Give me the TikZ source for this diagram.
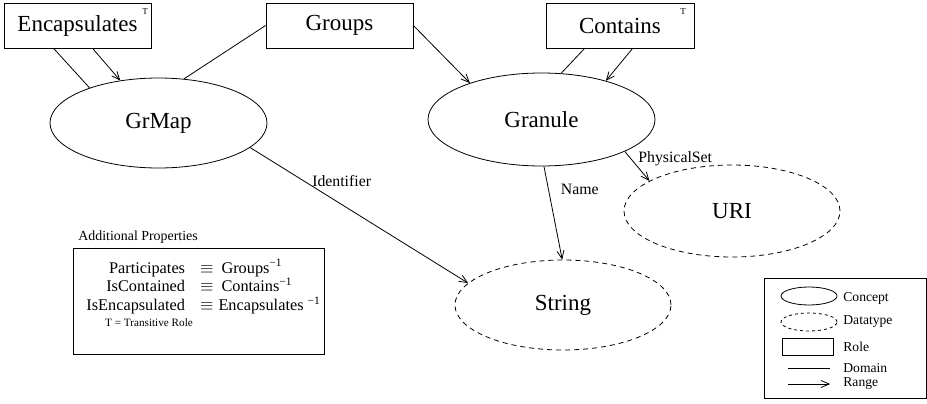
\documentclass[tikz,border=0pt]{standalone}
\usepackage{fontspec}
\setmainfont{Liberation Serif}
\usetikzlibrary{arrows.meta,shapes.geometric}
\newcommand{\invsup}{\textsuperscript{\char"2212 1}}
\begin{document}
\begin{tikzpicture}[x=1pt,y=-1pt,
  line width=0.8pt,
  role/.style={draw, rectangle, minimum width=147pt, minimum height=45pt,
    inner sep=0pt, font=\fontsize{23}{27}\selectfont},
  concept/.style={draw, ellipse, inner sep=0pt, font=\fontsize{23}{27}\selectfont},
  datatype/.style={concept, dash pattern=on 5pt off 4pt},
  rng/.style={-{Straight Barb[length=8pt,width=7pt]}},
  lbl/.style={font=\fontsize{15.8}{18}\selectfont, inner sep=0pt},
  tmark/.style={font=\fontsize{9}{10}\selectfont, inner sep=0pt},
  legtext/.style={font=\fontsize{13.6}{16}\selectfont, inner sep=0pt, anchor=west},
]
\useasboundingbox (0,0) rectangle (927,404);

% roles
\node[role] (enc) at (77.5,25.5) {Encapsulates};
\node[tmark] (encT) at (145,12) {T};
\node[role] (grp) at (339.5,25.5) {Groups};
\node[role, minimum width=148pt] (con) at (620,25.5) {Contains};
\node[tmark] (conT) at (683,12) {T};

% concepts and datatypes
\node[concept, minimum width=217pt, minimum height=90pt] (grmap) at (158.5,123) {GrMap};
\node[concept, minimum width=227pt, minimum height=93pt] (gran) at (541.5,119.5) {Granule};
\node[datatype, minimum width=216pt, minimum height=92pt] (uri) at (732,211) {URI};
\node[datatype, minimum width=216pt, minimum height=90pt] (str) at (563,305) {String};

% role domains and ranges
\draw ([xshift=50pt]enc.south west) -- (grmap.153.8);
\draw[rng] ([xshift=89pt]enc.south west) -- (grmap.132.2);
\draw (grp.west) -- (grmap.60);
\draw[rng] (grp.east) -- (gran.153.1);
\draw ([xshift=39pt]con.south west) -- (gran.67.1);
\draw[rng] ([xshift=87pt]con.south west) -- (gran.31.4);

% attributes
\draw[rng] (grmap.-15.9) -- node[lbl, pos=0.42, above=17pt] {Identifier} (str.167);
\draw[rng] (gran.-87.6) -- node[lbl, pos=0.25, right=12pt] {Name} (str.91.3);
\draw[rng] (gran.-21.4) -- node[lbl, pos=0.25, anchor=west, xshift=7pt] {PhysicalSet} (uri.160.5);

% additional properties
\node[font=\fontsize{13.9}{16}\selectfont, inner sep=0pt, anchor=west] (addT) at (78,237) {Additional Properties};
\node[draw, minimum width=251pt, minimum height=106pt, inner sep=0pt] (props) at (198.5,301) {};
\node[font=\fontsize{16.3}{16.6}\selectfont, inner sep=0pt, anchor=base west] (ptab) at (86,273)
  {\begin{tabular}[t]{@{}r@{\hspace{15pt}}c@{\hspace{8pt}}l@{}}
     Participates & $\equiv$ & Groups\invsup\\
     IsContained & $\equiv$ & Contains\invsup\\
     IsEncapsulated & $\equiv$ & \hspace{-3pt}Encapsulates \invsup
   \end{tabular}};
\node[font=\fontsize{11.2}{13}\selectfont, inner sep=0pt] (trole) at (149,323) {T = Transitive Role};

% legend
\node[draw, minimum width=162pt, minimum height=120pt, inner sep=0pt] (legend) at (845,338) {};
\node[draw, ellipse, minimum width=56pt, minimum height=18pt, inner sep=0pt] (lgc) at (809,296) {};
\node[draw, ellipse, dash pattern=on 3pt off 3pt, minimum width=56pt, minimum height=18pt, inner sep=0pt] (lgd) at (809,322) {};
\node[draw, rectangle, minimum width=51pt, minimum height=17pt, inner sep=0pt] (lgr) at (807.5,346.5) {};
\coordinate (dom1) at (788,368);
\coordinate (dom2) at (830,368);
\coordinate (ran1) at (788,384);
\coordinate (ran2) at (830,384);
\draw (dom1) -- (dom2);
\draw[rng] (ran1) -- (ran2);
\node[legtext] (lt1) at (843,298) {Concept};
\node[legtext] (lt2) at (843,322) {Datatype};
\node[legtext] (lt3) at (843,347) {Role};
\node[legtext] (lt4) at (843,368) {Domain};
\node[legtext] (lt5) at (843,384) {Range};
\end{tikzpicture}
\end{document}
